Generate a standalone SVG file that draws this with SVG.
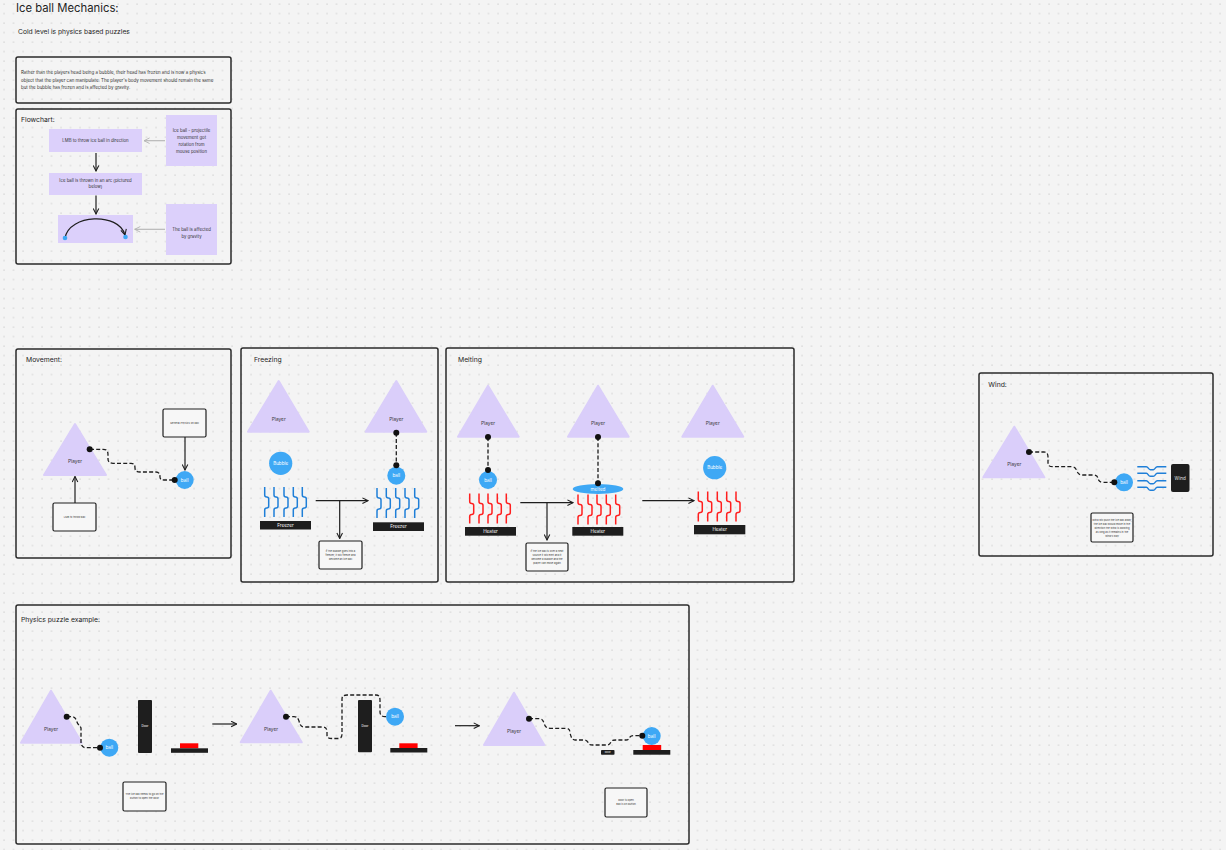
<svg xmlns="http://www.w3.org/2000/svg" width="1226" height="850" viewBox="0 0 1226 850">
<defs>
<pattern id="dots" x="3" y="3" width="9.5" height="9.5" patternUnits="userSpaceOnUse"><circle cx="1" cy="1" r="0.6" fill="#b8b8b8"/></pattern>
<marker id="arr" viewBox="0 0 10 10" refX="9" refY="5" markerWidth="7" markerHeight="7" orient="auto" markerUnits="userSpaceOnUse"><path d="M1,1 L9,5 L1,9" fill="none" stroke="#1e1e1e" stroke-width="1.5"/></marker>
<marker id="arrg" viewBox="0 0 10 10" refX="9" refY="5" markerWidth="7" markerHeight="7" orient="auto" markerUnits="userSpaceOnUse"><path d="M1,1 L9,5 L1,9" fill="none" stroke="#b3b3b3" stroke-width="1.3"/></marker>
<path id="wave" d="M0,0 V8 Q0,10 2,10 Q4,10 4,12 V19 Q4,21 2,21 Q0,21 0,23 V30" fill="none" stroke-width="1.5"/>
<path id="windline" d="M0,0 H9 C11,0 11,3 13,3 H16 C18,3 18,0 20,0 H29" fill="none" stroke="#1f7fd8" stroke-width="1.4"/>
<style>
text{font-family:Inter,"Liberation Sans",sans-serif;}
.frame{fill:none;stroke:#2a2a2a;stroke-width:1.5;}
.hdr{font-size:6.8px;fill:#1e1e1e;}
.tri{fill:#dacefa;stroke:#dacefa;stroke-width:2;stroke-linejoin:round;}
.plab{font-size:4.8px;fill:#3a3a3a;text-anchor:middle;}
.ball{fill:#3ea8f5;}
.wlab{font-size:4.6px;fill:#ffffff;text-anchor:middle;}
.bar{fill:#1e1e1e;}
.dot{fill:#111111;}
.dash{fill:none;stroke:#1e1e1e;stroke-width:1.3;stroke-dasharray:4 2.2;}
.line{fill:none;stroke:#1e1e1e;stroke-width:1.2;}
.gline{fill:none;stroke:#b3b3b3;stroke-width:1.1;}
.note{fill:#f7f7f7;stroke:#1e1e1e;stroke-width:1.2;}
.ntxt{font-size:2.6px;fill:#333;text-anchor:middle;}
.lav{fill:#dcd0fb;}
.ltxt{font-size:4.3px;fill:#333;text-anchor:middle;}
.blue use{stroke:#1f7fd8;}
.red use{stroke:#ff1f1f;}
</style>
</defs>
<rect x="0" y="0" width="1226" height="850" fill="#f4f4f4"/>
<rect x="0" y="0" width="1226" height="850" fill="url(#dots)"/>

<g id="title">
<text x="16" y="12" style="font-size:11.3px;fill:#1e1e1e">Ice ball Mechanics:</text>
<text x="18" y="34" style="font-size:6.7px;fill:#1e1e1e">Cold level is physics based puzzles</text>
</g>

<g id="description">
<rect x="16" y="57" width="215" height="46" rx="2" class="frame"/>
<text x="21" y="74" style="font-size:4.45px;fill:#333">Rather than the players head being a bubble, their head has frozen and is now a physics</text>
<text x="21" y="81.5" style="font-size:4.45px;fill:#333">object that the player can manipulate. The player's body movement should remain the same</text>
<text x="21" y="89" style="font-size:4.45px;fill:#333">but the bubble has frozen and is affected by gravity.</text>
</g>

<g id="flowchart-frame">
<rect x="16" y="109" width="215" height="155" rx="2" class="frame"/>
<text x="21" y="122" class="hdr">Flowchart:</text>
</g>
<g id="fc-lmb">
<rect x="49" y="129" width="93" height="23" class="lav"/>
<text x="95.5" y="142" class="ltxt">LMB to throw ice ball in direction</text>
</g>
<g id="fc-projectile">
<rect x="166" y="115" width="51" height="51" class="lav"/>
<text x="191.5" y="131.8" class="ltxt">Ice ball - projectile</text>
<text x="191.5" y="138.8" class="ltxt">movement got</text>
<text x="191.5" y="145.8" class="ltxt">rotation from</text>
<text x="191.5" y="152.8" class="ltxt">mouse position</text>
</g>
<g id="fc-thrown">
<rect x="49" y="173" width="93" height="22" class="lav"/>
<text x="95.5" y="182.2" class="ltxt">Ice ball is thrown in an arc (pictured</text>
<text x="95.5" y="187.8" class="ltxt">below)</text>
</g>
<g id="fc-arc">
<rect x="58" y="215" width="75" height="28" class="lav"/>
<path d="M65,238 C69,214 119,212 125,235" class="line" marker-end="url(#arr)"/>
<circle cx="65" cy="238" r="2.3" class="ball"/>
<circle cx="125.5" cy="237" r="2.3" class="ball"/>
</g>
<g id="fc-gravity">
<rect x="166" y="204" width="51" height="51" class="lav"/>
<text x="191.5" y="230.8" class="ltxt">The ball is affected</text>
<text x="191.5" y="238.2" class="ltxt">by gravity</text>
</g>

<g id="movement">
<rect x="16" y="349" width="215" height="209" rx="2" class="frame"/>
<text x="26" y="361.7" class="hdr">Movement:</text>
<path d="M75,424 L106,475 L44,475 Z" class="tri"/>
<text x="75" y="462.5" class="plab">Player</text>
<circle cx="184.7" cy="480" r="9" class="ball"/>
<text x="184.7" y="481.6" class="wlab">ball</text>
<rect x="163" y="409" width="43" height="28" rx="1.5" class="note"/>
<text x="184.5" y="424" class="ntxt">General Physics on ball</text>
<rect x="53" y="503" width="43" height="28" rx="1.5" class="note"/>
<text x="74.5" y="518" class="ntxt">LMB to throw ball</text>
</g>

<g id="freezing">
<rect x="241" y="348" width="197" height="234" rx="2" class="frame"/>
<text x="254" y="361.7" class="hdr">Freezing</text>
<path d="M278.7,381 L308.7,431.7 L248,431.7 Z" class="tri"/>
<text x="278.7" y="420.5" class="plab">Player</text>
<circle cx="280.7" cy="463.3" r="11.6" class="ball"/>
<text x="280.7" y="465" class="wlab">Bubble</text>
<g class="blue">
<use href="#wave" x="264.7" y="487"/><use href="#wave" x="274" y="487"/><use href="#wave" x="284" y="487"/><use href="#wave" x="293.3" y="487"/><use href="#wave" x="302.3" y="487"/>
</g>
<rect x="260" y="521" width="51" height="8.5" class="bar"/>
<text x="285.5" y="527" class="wlab">Freezer</text>
<path d="M396.3,381 L426.3,431.7 L365.7,431.7 Z" class="tri"/>
<text x="396.3" y="420.5" class="plab">Player</text>
<circle cx="396.3" cy="475.7" r="9" class="ball"/>
<text x="396.3" y="477.3" class="wlab">ball</text>
<g class="blue">
<use href="#wave" x="377" y="488"/><use href="#wave" x="386.3" y="488"/><use href="#wave" x="395.7" y="488"/><use href="#wave" x="405" y="488"/><use href="#wave" x="414.7" y="488"/>
</g>
<rect x="373" y="522.3" width="51" height="8.7" class="bar"/>
<text x="398.5" y="528.4" class="wlab">Freezer</text>
<rect x="319" y="541" width="43" height="28" rx="1.5" class="note"/>
<text x="340.5" y="551.5" class="ntxt">If the bubble goes into a</text>
<text x="340.5" y="555.5" class="ntxt">freezer, it will freeze and</text>
<text x="340.5" y="559.5" class="ntxt">become an ice ball</text>
</g>

<g id="melting">
<rect x="446" y="348" width="348" height="234" rx="2" class="frame"/>
<text x="458" y="361.7" class="hdr">Melting</text>
<path d="M488,385.7 L518.7,436.7 L458,436.7 Z" class="tri"/>
<text x="488" y="425.2" class="plab">Player</text>
<circle cx="488" cy="480" r="9" class="ball"/>
<text x="488" y="481.6" class="wlab">ball</text>
<g class="red">
<use href="#wave" x="469.7" y="493.5"/><use href="#wave" x="479" y="493.5"/><use href="#wave" x="488" y="493.5"/><use href="#wave" x="497.3" y="493.5"/><use href="#wave" x="506.3" y="493.5"/>
</g>
<rect x="465" y="527" width="51" height="8.7" class="bar"/>
<text x="490.5" y="533" class="wlab">Heater</text>
<path d="M598,385.7 L628.7,436.7 L568,436.7 Z" class="tri"/>
<text x="598" y="425.2" class="plab">Player</text>
<ellipse cx="598" cy="489" rx="25.3" ry="5" class="ball"/>
<text x="598" y="490.6" class="wlab">melted</text>
<g class="red">
<use href="#wave" x="578" y="494.5"/><use href="#wave" x="588" y="494.5"/><use href="#wave" x="597" y="494.5"/><use href="#wave" x="606.3" y="494.5"/><use href="#wave" x="615.7" y="494.5"/>
</g>
<rect x="572.3" y="527" width="51" height="8.7" class="bar"/>
<text x="597.8" y="533" class="wlab">Heater</text>
<path d="M712.7,385.7 L743.3,436.7 L682.3,436.7 Z" class="tri"/>
<text x="712.7" y="425.2" class="plab">Player</text>
<circle cx="714.7" cy="467.7" r="11.6" class="ball"/>
<text x="714.7" y="469.3" class="wlab">Bubble</text>
<g class="red">
<use href="#wave" x="698.3" y="491.5"/><use href="#wave" x="707.7" y="491.5"/><use href="#wave" x="717.3" y="491.5"/><use href="#wave" x="726.7" y="491.5"/><use href="#wave" x="736" y="491.5"/>
</g>
<rect x="694" y="525" width="51.3" height="9.3" class="bar"/>
<text x="719.7" y="531.3" class="wlab">Heater</text>
<rect x="526" y="543" width="42" height="28" rx="1.5" class="note"/>
<text x="547" y="551.5" class="ntxt">If the ice ball is over a heat</text>
<text x="547" y="555.5" class="ntxt">source it will melt and it</text>
<text x="547" y="559.5" class="ntxt">become a bubble and the</text>
<text x="547" y="563.5" class="ntxt">player can move again</text>
</g>

<g id="wind">
<rect x="979" y="373" width="234" height="183" rx="2" class="frame"/>
<text x="988.3" y="386.7" class="hdr">Wind:</text>
<path d="M1014.3,426.7 L1044.3,477.3 L983.3,477.3 Z" class="tri"/>
<text x="1014.3" y="466" class="plab">Player</text>
<circle cx="1124" cy="482.3" r="9" class="ball"/>
<text x="1124" y="484" class="wlab">ball</text>
<use href="#windline" x="1137.3" y="466.7"/>
<use href="#windline" x="1137.3" y="473.3"/>
<use href="#windline" x="1137.3" y="480.7"/>
<use href="#windline" x="1137.3" y="487.3"/>
<rect x="1171" y="464" width="18.5" height="28" rx="2" class="bar"/>
<text x="1180.2" y="479.5" class="wlab" style="fill:#e0e0e0">Wind</text>
<rect x="1091" y="513" width="42" height="29" rx="1.5" class="note"/>
<text x="1112" y="520.5" class="ntxt">Wind will push the ice ball away,</text>
<text x="1112" y="524.5" class="ntxt">the ice ball would move in the</text>
<text x="1112" y="528.5" class="ntxt">direction the wind is blowing</text>
<text x="1112" y="532.5" class="ntxt">as long as it remains in the</text>
<text x="1112" y="536.5" class="ntxt">wind's way</text>
</g>

<g id="physics">
<rect x="16" y="605" width="673" height="239" rx="2" class="frame"/>
<text x="21" y="622.3" class="hdr">Physics puzzle example:</text>
<path d="M51,690.7 L81.7,742.7 L21,742.7 Z" class="tri"/>
<text x="51" y="730.5" class="plab">Player</text>
<circle cx="109.3" cy="747.7" r="9" class="ball"/>
<text x="109.3" y="749.3" class="wlab">ball</text>
<rect x="138" y="700" width="14" height="53" rx="1" class="bar"/>
<text x="145" y="727" class="wlab" style="font-size:3px">Door</text>
<rect x="180" y="743.3" width="18.3" height="5" fill="#ff0000"/>
<rect x="171" y="748.3" width="37" height="4.5" class="bar"/>
<rect x="123" y="782" width="43" height="29" rx="1.5" class="note"/>
<text x="144.5" y="795" class="ntxt">The ice ball needs to go on the</text>
<text x="144.5" y="799" class="ntxt">button to open the door</text>
<path d="M270.7,690.7 L301.7,742.3 L240.7,742.3 Z" class="tri"/>
<text x="271" y="730.8" class="plab">Player</text>
<rect x="358" y="700" width="14" height="52.3" rx="1" class="bar"/>
<text x="365" y="727" class="wlab" style="font-size:3px">Door</text>
<circle cx="395" cy="716.7" r="9" class="ball"/>
<text x="395" y="718.3" class="wlab">ball</text>
<rect x="399.3" y="743.3" width="18.3" height="5" fill="#ff0000"/>
<rect x="390.3" y="748" width="37" height="4.5" class="bar"/>
<path d="M514,692.7 L544.3,745 L484,745 Z" class="tri"/>
<text x="514" y="732.8" class="plab">Player</text>
<rect x="601" y="750" width="13.5" height="4.7" rx="0.8" class="bar"/>
<text x="607.7" y="753.4" class="wlab" style="font-size:2.6px">Door</text>
<circle cx="651.7" cy="736" r="9" class="ball"/>
<text x="651.7" y="737.6" class="wlab">ball</text>
<rect x="642.7" y="745" width="18.5" height="5" fill="#ff0000"/>
<rect x="633.3" y="750" width="37" height="4.7" class="bar"/>
<rect x="605" y="788" width="42" height="29" rx="1.5" class="note"/>
<text x="626" y="801" class="ntxt">Door is open</text>
<text x="626" y="805" class="ntxt">Ball is on button</text>
</g>

<g id="connectors">
<path d="M165,140.7 H144" class="gline" marker-end="url(#arrg)"/>
<path d="M96,153 V171" class="line" marker-end="url(#arr)"/>
<path d="M96,195.5 V214" class="line" marker-end="url(#arr)"/>
<path d="M165,229.3 H134.7" class="gline" marker-end="url(#arrg)"/>
<path d="M90,449.3 H103 C107,449.3 108,451 108,455 V459 C108,462 110,463.3 113,463.3 H131 C134,463.3 135,465 135,468 C135,471 137,472 140,472 H156 C159,472 160,474 160,477 C160,479 161,480 164,480 H175" class="dash"/>
<circle cx="89.7" cy="449.3" r="3" class="dot"/>
<circle cx="174.7" cy="480" r="3" class="dot"/>
<path d="M185,437 V470" class="line" marker-end="url(#arr)"/>
<path d="M75,503 V476.5" class="line" marker-end="url(#arr)"/>
<path d="M315.7,500.7 H368" class="line" marker-end="url(#arr)"/>
<path d="M339.7,500.7 V538.5" class="line" marker-end="url(#arr)"/>
<path d="M396.3,432.7 V465.3" class="dash"/>
<circle cx="396.3" cy="432.7" r="3" class="dot"/>
<circle cx="396.3" cy="465.3" r="3" class="dot"/>
<path d="M488,437 V470" class="dash"/>
<circle cx="488" cy="437" r="3" class="dot"/>
<circle cx="488" cy="470" r="3" class="dot"/>
<path d="M520.3,502.7 H573" class="line" marker-end="url(#arr)"/>
<path d="M547,502.7 V540" class="line" marker-end="url(#arr)"/>
<path d="M598,437 V483.3" class="dash"/>
<circle cx="598" cy="437" r="3" class="dot"/>
<circle cx="598" cy="483.3" r="3" class="dot"/>
<path d="M642.3,500.7 H694" class="line" marker-end="url(#arr)"/>
<path d="M1029,452 H1044 C1047,452 1048,454 1048,457 V463 C1048,466 1050,466.7 1053,466.7 H1072 C1075,466.7 1076,469 1077,471 C1078,474 1080,475 1083,475 H1094 C1097,475 1098,477 1098,479 C1099,481 1100,482.3 1103,482.3 H1114" class="dash"/>
<circle cx="1029" cy="452" r="3" class="dot"/>
<circle cx="1114.3" cy="482.3" r="3" class="dot"/>
<path d="M67,716.7 H72 C75,716.7 76,719 77,722 C78,725 80,725.5 81,728 V742 C81,746 83,747.7 86,747.7 H100" class="dash"/>
<circle cx="66.7" cy="716.7" r="3" class="dot"/>
<circle cx="100" cy="747.7" r="3" class="dot"/>
<path d="M212.3,724 H236.7" class="line" marker-end="url(#arr)"/>
<path d="M286,716.7 H294 C297,716.7 298,718 299,721 C300,725 301,727 304,727 H323 C326,727 327,729 327,732 V735 C327,738 329,738.5 332,738.5 H338 C341,738.5 342,737 342,734 V699 C342,696 344,695 347,695 H376 C379,695 380,697 380,700 V712 C380,715 382,716.7 385,716.7 H386" class="dash"/>
<circle cx="286" cy="716.7" r="3" class="dot"/>
<path d="M455,725.7 H479.3" class="line" marker-end="url(#arr)"/>
<path d="M529,718.7 H539 C542,718.7 543,720 544,723 C545,727 547,728.3 550,728.3 H566 C569,728.3 570,730 570,733 C571,737 572,740 575,740 H584 C587,740 588,742 589,744 C590,745 591,745 593,745 H607 C609,745 610,744 611,742 C612,740 613,740 616,740 H626 C628,740 629,739 630,737 C631,736 632,735.7 634,735.7 H642" class="dash"/>
<circle cx="529" cy="718.7" r="3" class="dot"/>
<circle cx="642.3" cy="735.7" r="3" class="dot"/>
</g>
</svg>
